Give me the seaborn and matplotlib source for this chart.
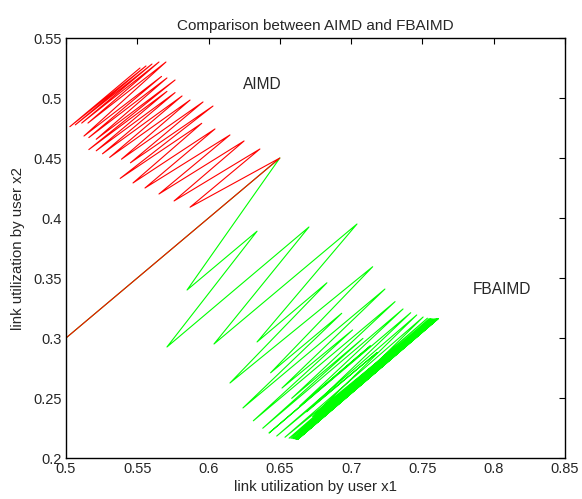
import numpy as np
import pandas as pd
import matplotlib
matplotlib.use("Agg")
import matplotlib.pyplot as plt
import seaborn as sns

# trajectoires (sommets successifs)
aimd_x = [0.5, 0.65, 0.587, 0.636, 0.5758, 0.6249, 0.5652, 0.615, 0.5554, 0.6045,
          0.547, 0.5952, 0.538, 0.6031, 0.5452, 0.5961, 0.5389, 0.587, 0.5306, 0.5814,
          0.5256, 0.5765, 0.5212, 0.5708, 0.516, 0.5765, 0.5212, 0.5708, 0.516, 0.567,
          0.5126, 0.5701, 0.5154, 0.5652, 0.511, 0.5603, 0.5065, 0.5561, 0.5027, 0.5519]
aimd_y = [0.3, 0.45, 0.409, 0.4575, 0.4142, 0.4642, 0.42, 0.4692, 0.425, 0.4742,
          0.4292, 0.4789, 0.433, 0.4933, 0.446, 0.4967, 0.449, 0.4983, 0.4505, 0.5017,
          0.4535, 0.5045, 0.456, 0.5055, 0.457, 0.515, 0.4656, 0.5167, 0.467, 0.518,
          0.4683, 0.53, 0.4791, 0.53, 0.4791, 0.5283, 0.4776, 0.5267, 0.4761, 0.525]

fbaimd_x = [0.5, 0.65, 0.5849, 0.634, 0.5708, 0.6704, 0.6038, 0.7041, 0.634, 0.683,
            0.615, 0.7151, 0.6435, 0.6934, 0.6241, 0.7237, 0.6515, 0.701, 0.6314, 0.7308,
            0.6583, 0.7083, 0.638, 0.7364, 0.664, 0.7135, 0.6424, 0.7418, 0.6688, 0.7183,
            0.6478, 0.746, 0.673, 0.7225, 0.6536, 0.7505, 0.6765, 0.7255, 0.6565, 0.7535,
            0.6578, 0.7548, 0.659, 0.7558, 0.6598, 0.7567, 0.6605, 0.7575, 0.661, 0.7583,
            0.6615, 0.759, 0.6618, 0.7595, 0.662, 0.76, 0.6622, 0.7604, 0.6624, 0.7607,
            0.6626, 0.761, 0.6627, 0.7612]
fbaimd_y = [0.3, 0.45, 0.34, 0.389, 0.2925, 0.3925, 0.295, 0.395, 0.2967, 0.346,
            0.2625, 0.3594, 0.271, 0.3206, 0.2417, 0.3408, 0.2583, 0.3067, 0.231, 0.3303,
            0.2497, 0.2997, 0.2248, 0.3242, 0.2435, 0.2935, 0.2208, 0.3211, 0.2385, 0.288,
            0.2183, 0.3192, 0.2345, 0.284, 0.2173, 0.3175, 0.231, 0.2812, 0.2165, 0.3165,
            0.2163, 0.3162, 0.2162, 0.316, 0.2161, 0.3159, 0.216, 0.3158, 0.2159, 0.3158,
            0.2158, 0.3158, 0.2158, 0.3158, 0.2157, 0.3158, 0.2157, 0.3159, 0.2157, 0.316,
            0.2157, 0.3161, 0.2157, 0.3162]

xticks = [0.5, 0.55, 0.6, 0.65, 0.7, 0.75, 0.8, 0.85]
yticks = [0.2, 0.25, 0.3, 0.35, 0.4, 0.45, 0.5, 0.55]

sns.set_style("white")
plt.rcParams['font.family'] = ['Liberation Sans', 'DejaVu Sans']

fig = plt.figure(figsize=(5.82, 4.99), dpi=100)
ax = fig.add_axes([66 / 582, 1 - 458 / 499, 499 / 582, 420 / 499])

fb = pd.DataFrame({'x': fbaimd_x, 'y': fbaimd_y})
ai = pd.DataFrame({'x': aimd_x, 'y': aimd_y})
sns.lineplot(data=fb, x='x', y='y', sort=False, estimator=None, color='#00ff00', lw=0.8, ax=ax)
sns.lineplot(data=ai, x='x', y='y', sort=False, estimator=None, color='#ff0000', lw=0.8, ax=ax)

ax.text(0.624, 0.511, 'AIMD', fontsize=11.2, ha='left', va='center')
ax.text(0.7855, 0.34, 'FBAIMD', fontsize=11.2, ha='left', va='center')

ax.set_xlim(0.5, 0.85)
ax.set_ylim(0.2, 0.55)
ax.set_xticks(xticks)
ax.set_yticks(yticks)
ax.set_xticklabels([f'{t:g}' for t in xticks])
ax.set_yticklabels([f'{t:g}' for t in yticks])
ax.tick_params(direction='in', length=4, width=0.8, top=True, right=True,
               labelsize=10.5, color='black', pad=3)
for s in ax.spines.values():
    s.set_color('black')
    s.set_linewidth(1.0)

ax.set_title('Comparison between AIMD and FBAIMD', fontsize=11, pad=6)
ax.set_xlabel('link utilization by user x1', fontsize=10.8, labelpad=3)
ax.set_ylabel('link utilization by user x2', fontsize=10.8, labelpad=6)

plt.savefig('out.png', dpi=100)
plt.close()
